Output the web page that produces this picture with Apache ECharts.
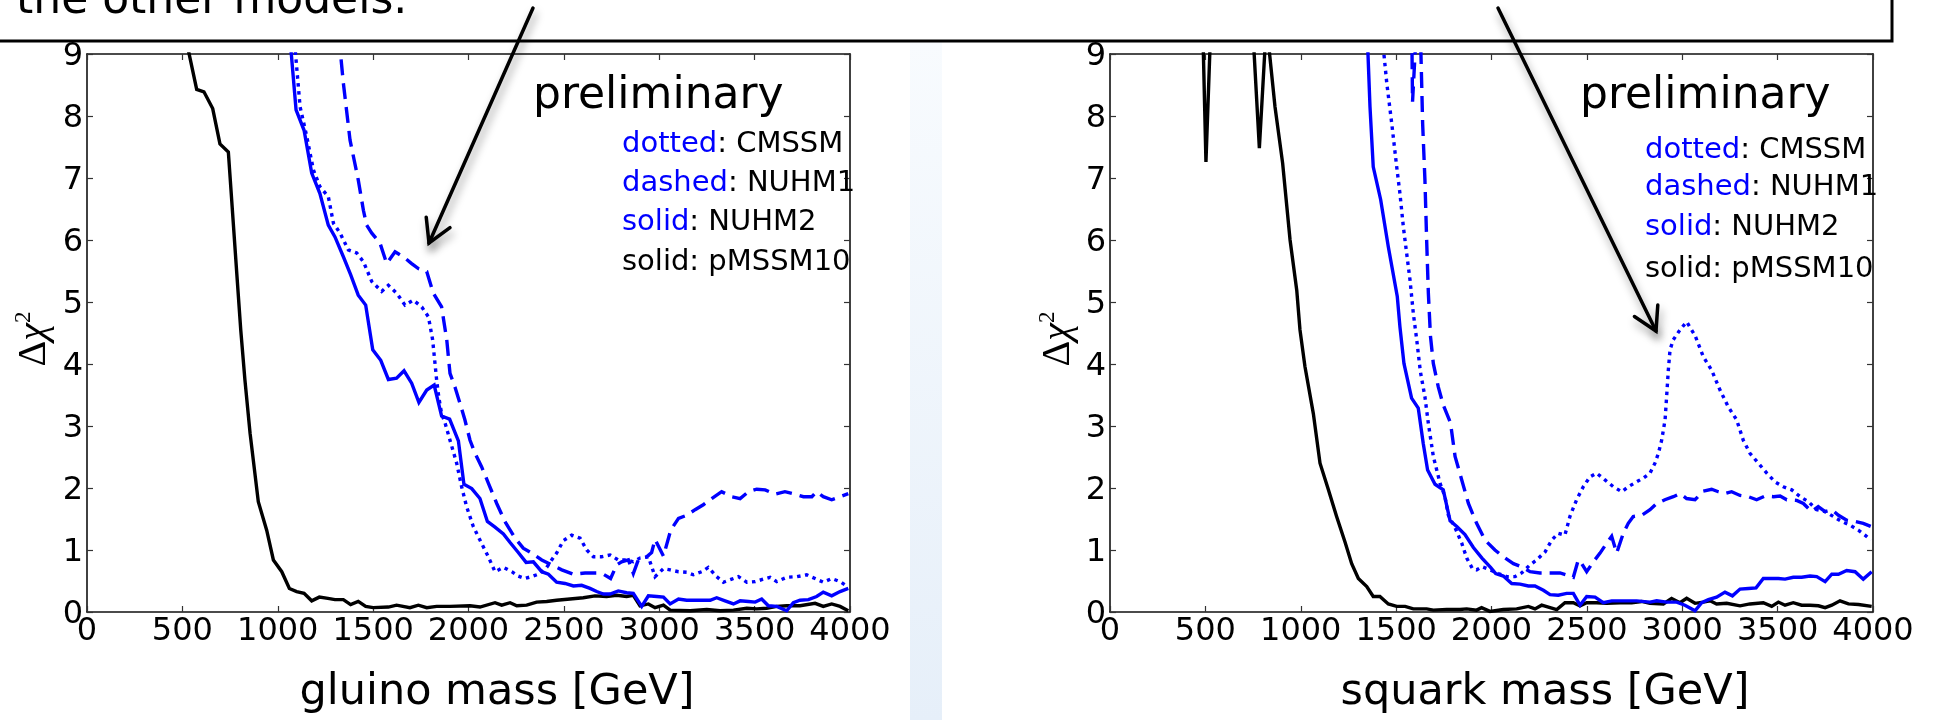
<!DOCTYPE html>
<html>
<head>
<meta charset="utf-8">
<script src="https://cdn.jsdelivr.net/npm/echarts@6/dist/echarts.min.js"></script>
<style>
  html, body { margin: 0; padding: 0; background: #ffffff; }
  #chart { width: 1937px; height: 720px; }
</style>
</head>
<body>
<div id="chart"></div>
<script>
// Axis ticks shared by both panels
const massTicks = [0, 500, 1000, 1500, 2000, 2500, 3000, 3500, 4000];
const chiTicks = [0, 1, 2, 3, 4, 5, 6, 7, 8, 9];

// Delta chi^2 profiles versus gluino mass [GeV]
const gluinoPMSSM10 = [[480, 9.8], [575, 8.43], [613, 8.39], [659, 8.12], [697, 7.55], [741, 7.42], [785, 5.47], [806, 4.55], [828, 3.74], [855, 2.88], [898, 1.78], [942, 1.32], [977, 0.84], [1021, 0.65], [1061, 0.38], [1099, 0.33], [1138, 0.30], [1178, 0.18], [1218, 0.24], [1263, 0.22], [1300, 0.20], [1344, 0.20], [1382, 0.12], [1422, 0.17], [1461, 0.09], [1500, 0.07], [1580, 0.08], [1623, 0.11], [1693, 0.07], [1737, 0.11], [1781, 0.07], [1833, 0.09], [1903, 0.09], [2008, 0.10], [2060, 0.08], [2139, 0.15], [2174, 0.11], [2218, 0.15], [2253, 0.10], [2305, 0.11], [2357, 0.16], [2410, 0.17], [2462, 0.19], [2532, 0.21], [2602, 0.23], [2663, 0.26], [2724, 0.25], [2777, 0.27], [2829, 0.25], [2864, 0.27], [2899, 0.10], [2943, 0.13], [2978, 0.07], [3022, 0.11], [3057, 0.03], [3162, 0.02], [3249, 0.04], [3319, 0.02], [3389, 0.03], [3459, 0.06], [3511, 0.05], [3563, 0.06], [3616, 0.09], [3668, 0.10], [3738, 0.10], [3817, 0.14], [3860, 0.09], [3904, 0.13], [3948, 0.09], [3991, 0.02]];
const gluinoNUHM2 = [[1060, 9.4], [1096, 8.10], [1138, 7.77], [1178, 7.08], [1221, 6.75], [1265, 6.24], [1300, 6.05], [1344, 5.73], [1382, 5.44], [1422, 5.11], [1461, 4.95], [1498, 4.23], [1540, 4.06], [1580, 3.75], [1623, 3.77], [1662, 3.89], [1702, 3.69], [1740, 3.38], [1781, 3.58], [1820, 3.66], [1859, 3.16], [1901, 3.11], [1947, 2.76], [1976, 2.06], [2017, 1.99], [2060, 1.83], [2099, 1.46], [2139, 1.37], [2183, 1.26], [2218, 1.12], [2261, 0.96], [2302, 0.80], [2340, 0.81], [2384, 0.65], [2419, 0.61], [2462, 0.48], [2506, 0.46], [2550, 0.42], [2593, 0.43], [2637, 0.38], [2672, 0.33], [2707, 0.29], [2742, 0.29], [2785, 0.34], [2829, 0.31], [2864, 0.30], [2908, 0.09], [2943, 0.26], [2987, 0.25], [3022, 0.24], [3057, 0.13], [3101, 0.21], [3144, 0.19], [3197, 0.19], [3267, 0.19], [3301, 0.23], [3345, 0.18], [3389, 0.13], [3424, 0.18], [3468, 0.17], [3503, 0.16], [3537, 0.21], [3572, 0.10], [3616, 0.09], [3668, 0.02], [3703, 0.15], [3738, 0.19], [3782, 0.20], [3825, 0.25], [3860, 0.32], [3904, 0.26], [3948, 0.33], [3991, 0.38]];
const gluinoCMSSM = [[1085, 9.3], [1117, 8.15], [1152, 7.67], [1187, 7.13], [1221, 6.86], [1265, 6.70], [1292, 6.27], [1327, 6.11], [1370, 5.84], [1414, 5.79], [1449, 5.65], [1493, 5.33], [1545, 5.17], [1580, 5.27], [1624, 5.14], [1667, 4.95], [1711, 5.03], [1755, 4.92], [1790, 4.76], [1812, 4.39], [1833, 3.74], [1845, 3.45], [1859, 3.20], [1877, 3.05], [1903, 2.77], [1938, 2.40], [1964, 2.02], [1990, 1.70], [2025, 1.38], [2060, 1.16], [2104, 0.89], [2139, 0.65], [2183, 0.72], [2227, 0.65], [2261, 0.58], [2296, 0.54], [2340, 0.58], [2375, 0.62], [2410, 0.72], [2436, 0.84], [2462, 0.95], [2497, 1.15], [2541, 1.24], [2585, 1.19], [2620, 1.00], [2655, 0.89], [2698, 0.89], [2742, 0.92], [2785, 0.84], [2829, 0.84], [2864, 0.81], [2899, 0.87], [2943, 0.89], [2978, 0.57], [3022, 0.70], [3057, 0.68], [3101, 0.65], [3144, 0.64], [3179, 0.60], [3223, 0.65], [3257, 0.72], [3301, 0.57], [3336, 0.48], [3380, 0.53], [3415, 0.57], [3459, 0.48], [3503, 0.49], [3546, 0.53], [3581, 0.56], [3616, 0.49], [3668, 0.56], [3721, 0.57], [3773, 0.60], [3817, 0.54], [3860, 0.48], [3904, 0.54], [3948, 0.49], [3982, 0.42]];
const gluinoNUHM1 = [[1320, 9.3], [1344, 8.53], [1379, 7.61], [1422, 6.97], [1449, 6.48], [1466, 6.24], [1493, 6.11], [1536, 5.95], [1571, 5.62], [1615, 5.81], [1658, 5.73], [1702, 5.62], [1737, 5.54], [1781, 5.49], [1816, 5.14], [1859, 4.92], [1886, 4.39], [1903, 3.85], [1929, 3.63], [1955, 3.37], [1981, 3.10], [2008, 2.77], [2034, 2.56], [2069, 2.34], [2104, 2.08], [2148, 1.75], [2191, 1.46], [2244, 1.19], [2287, 1.03], [2331, 0.95], [2384, 0.84], [2436, 0.76], [2489, 0.68], [2550, 0.61], [2611, 0.63], [2672, 0.63], [2707, 0.61], [2745, 0.54], [2777, 0.76], [2803, 0.81], [2838, 0.84], [2864, 0.62], [2890, 0.84], [2934, 0.89], [2960, 0.96], [2978, 1.17], [3022, 0.90], [3060, 1.32], [3101, 1.51], [3144, 1.56], [3188, 1.65], [3231, 1.73], [3275, 1.83], [3327, 1.94], [3380, 1.86], [3424, 1.83], [3468, 1.94], [3511, 1.98], [3555, 1.97], [3607, 1.90], [3659, 1.94], [3712, 1.90], [3756, 1.86], [3800, 1.86], [3825, 1.94], [3860, 1.86], [3904, 1.81], [3948, 1.86], [3991, 1.91]];

// Delta chi^2 profiles versus squark mass [GeV]
const squarkPMSSM10 = [[485, 9.6], [503, 7.26], [530, 9.6], [745, 9.6], [783, 7.48], [820, 9.5], [865, 8.15], [905, 7.24], [944, 6.0], [979, 5.19], [996, 4.55], [1022, 3.96], [1066, 3.20], [1101, 2.40], [1145, 1.97], [1188, 1.54], [1232, 1.13], [1267, 0.78], [1302, 0.54], [1346, 0.41], [1380, 0.25], [1415, 0.25], [1459, 0.13], [1503, 0.09], [1547, 0.09], [1590, 0.05], [1660, 0.05], [1695, 0.03], [1765, 0.04], [1835, 0.04], [1870, 0.05], [1922, 0.03], [1948, 0.07], [1992, 0.01], [2062, 0.04], [2132, 0.05], [2193, 0.09], [2228, 0.05], [2263, 0.11], [2307, 0.07], [2342, 0.04], [2385, 0.15], [2429, 0.15], [2464, 0.10], [2499, 0.15], [2551, 0.15], [2604, 0.14], [2674, 0.15], [2735, 0.15], [2787, 0.17], [2831, 0.14], [2901, 0.13], [2944, 0.22], [2988, 0.15], [3023, 0.22], [3067, 0.14], [3110, 0.16], [3146, 0.18], [3180, 0.13], [3233, 0.14], [3303, 0.10], [3355, 0.13], [3425, 0.15], [3469, 0.09], [3504, 0.16], [3539, 0.11], [3582, 0.15], [3626, 0.11], [3670, 0.11], [3714, 0.10], [3749, 0.07], [3784, 0.11], [3827, 0.18], [3871, 0.13], [3924, 0.12], [3993, 0.09]];
const squarkNUHM2 = [[1345, 9.6], [1363, 8.15], [1380, 7.18], [1419, 6.65], [1459, 5.89], [1506, 5.09], [1520, 4.60], [1541, 4.01], [1581, 3.45], [1616, 3.29], [1642, 2.72], [1665, 2.29], [1704, 2.06], [1747, 1.97], [1783, 1.47], [1818, 1.38], [1861, 1.25], [1905, 1.04], [1950, 0.87], [1995, 0.72], [2022, 0.62], [2062, 0.58], [2106, 0.46], [2150, 0.45], [2193, 0.42], [2228, 0.42], [2272, 0.35], [2307, 0.28], [2350, 0.27], [2394, 0.30], [2429, 0.30], [2464, 0.11], [2499, 0.25], [2543, 0.24], [2586, 0.15], [2630, 0.18], [2691, 0.18], [2761, 0.18], [2831, 0.16], [2866, 0.18], [2918, 0.16], [2971, 0.16], [3014, 0.11], [3067, 0.02], [3102, 0.15], [3137, 0.20], [3180, 0.24], [3224, 0.32], [3263, 0.26], [3303, 0.37], [3347, 0.38], [3387, 0.39], [3425, 0.54], [3469, 0.54], [3504, 0.54], [3539, 0.53], [3582, 0.56], [3626, 0.56], [3670, 0.58], [3705, 0.57], [3749, 0.49], [3784, 0.61], [3819, 0.61], [3862, 0.67], [3906, 0.65], [3949, 0.53], [3993, 0.65]];
const squarkCMSSM = [[1420, 9.5], [1451, 8.53], [1477, 7.88], [1503, 7.18], [1520, 6.75], [1538, 6.21], [1555, 5.79], [1573, 5.35], [1590, 4.82], [1608, 4.39], [1627, 3.88], [1651, 3.47], [1669, 3.04], [1695, 2.51], [1730, 2.08], [1756, 1.86], [1774, 1.56], [1809, 1.36], [1844, 1.11], [1870, 0.87], [1900, 0.70], [1922, 0.68], [1950, 0.73], [1992, 0.68], [2036, 0.62], [2080, 0.57], [2123, 0.57], [2158, 0.63], [2202, 0.76], [2237, 0.84], [2281, 0.97], [2316, 1.16], [2350, 1.27], [2385, 1.24], [2411, 1.54], [2446, 1.81], [2481, 2.02], [2516, 2.18], [2551, 2.24], [2595, 2.13], [2639, 2.02], [2683, 1.94], [2717, 2.02], [2761, 2.10], [2796, 2.16], [2831, 2.24], [2857, 2.40], [2875, 2.56], [2892, 2.77], [2910, 3.10], [2918, 3.47], [2927, 3.90], [2936, 4.23], [2953, 4.39], [2988, 4.55], [3023, 4.68], [3067, 4.46], [3110, 4.12], [3154, 3.90], [3198, 3.58], [3241, 3.31], [3285, 3.10], [3320, 2.77], [3355, 2.56], [3399, 2.40], [3443, 2.24], [3486, 2.10], [3530, 2.02], [3574, 1.97], [3618, 1.86], [3661, 1.78], [3705, 1.65], [3749, 1.62], [3792, 1.54], [3836, 1.46], [3880, 1.40], [3923, 1.32], [3958, 1.24], [3988, 1.16]];
const squarkNUHM1 = [[1582, 9.4], [1586, 8.23], [1606, 9.4], [1627, 9.4], [1639, 7.88], [1651, 6.97], [1660, 6.0], [1669, 5.14], [1680, 4.45], [1695, 4.01], [1721, 3.63], [1747, 3.34], [1785, 3.05], [1809, 2.51], [1844, 2.13], [1879, 1.75], [1922, 1.43], [1966, 1.16], [2018, 1.0], [2062, 0.89], [2115, 0.78], [2158, 0.73], [2202, 0.65], [2254, 0.63], [2307, 0.63], [2359, 0.63], [2403, 0.59], [2429, 0.56], [2455, 0.84], [2473, 0.78], [2499, 0.65], [2534, 0.81], [2569, 0.95], [2604, 1.11], [2630, 1.22], [2656, 0.95], [2691, 1.27], [2717, 1.43], [2743, 1.54], [2787, 1.56], [2831, 1.65], [2866, 1.75], [2909, 1.81], [2953, 1.86], [2988, 1.91], [3023, 1.83], [3067, 1.81], [3110, 1.95], [3154, 1.98], [3189, 1.94], [3224, 1.91], [3259, 1.94], [3303, 1.88], [3347, 1.86], [3390, 1.81], [3434, 1.87], [3478, 1.86], [3513, 1.87], [3548, 1.81], [3600, 1.80], [3635, 1.75], [3678, 1.62], [3713, 1.70], [3749, 1.62], [3784, 1.65], [3819, 1.56], [3862, 1.48], [3906, 1.46], [3949, 1.43], [3988, 1.38]];

const BLUE = '#0000ff';
const BLACK = '#000000';
const SANS = 'DejaVu Sans';
const SERIF = 'Liberation Serif';
const DASHED = [16, 8];
const DOTTED = [3.5, 4.5];
const TICK_FONT = 32;

const frameLine = { color: '#111', width: 1.6 };
const frameTick = { show: true, inside: true, length: 6, lineStyle: { color: '#333', width: 1.2 } };

// shiftDown nudges the value labels of the vertical axes slightly below their tick
function tickLabel(withLabels, shiftDown) {
  return {
    show: withLabels, margin: 4,
    formatter: v => '{t|' + String(v) + '}',
    rich: { t: { fontFamily: SANS, fontSize: TICK_FONT, lineHeight: TICK_FONT, color: '#000', padding: [shiftDown * 2, 0, 0, 0] } },
    fontFamily: SANS, fontSize: TICK_FONT, color: '#000'
  };
}
function massAxis(gridIndex, position, withLabels) {
  return {
    type: 'value', gridIndex, position,
    min: massTicks[0], max: massTicks[massTicks.length - 1], interval: massTicks[1] - massTicks[0],
    axisLine: { show: true, onZero: false, lineStyle: frameLine },
    axisTick: frameTick,
    axisLabel: tickLabel(withLabels, 0),
    splitLine: { show: false }
  };
}
function chiAxis(gridIndex, position, withLabels) {
  return {
    type: 'value', gridIndex, position,
    min: chiTicks[0], max: chiTicks[chiTicks.length - 1], interval: chiTicks[1] - chiTicks[0],
    axisLine: { show: true, onZero: false, lineStyle: frameLine },
    axisTick: frameTick,
    axisLabel: tickLabel(withLabels, 3),
    splitLine: { show: false }
  };
}
function curve(name, data, axisIndex, color, type) {
  return {
    type: 'line', name, data,
    xAxisIndex: axisIndex, yAxisIndex: axisIndex,
    symbol: 'none', showSymbol: false, smooth: false, clip: true,
    lineStyle: { color, width: 3.4, type, cap: 'butt', join: 'miter' },
    emphasis: { disabled: true }
  };
}

// Plain text helper: y is the alphabetic baseline
function label(text, x, baseline, size, align, rich) {
  return {
    type: 'text', x, y: baseline - 0.346 * size, z: 120,
    style: { text, fontFamily: SANS, fontSize: size, fill: '#000', align: align || 'left', verticalAlign: 'middle', rich }
  };
}
const keyRich = {
  b: { fontFamily: SANS, fontSize: 29, fill: BLUE, color: BLUE },
  k: { fontFamily: SANS, fontSize: 29, fill: '#000', color: '#000' }
};
function key(panelX, baselines) {
  return [
    label('{b|dotted}{k|: CMSSM}', panelX, baselines[0], 29, 'left', keyRich),
    label('{b|dashed}{k|: NUHM1}', panelX, baselines[1], 29, 'left', keyRich),
    label('{b|solid}{k|: NUHM2}', panelX, baselines[2], 29, 'left', keyRich),
    label('{k|solid: pMSSM10}', panelX, baselines[3], 29, 'left', keyRich)
  ];
}
function chiTitle(x, y) {
  return {
    type: 'text', x, y, rotation: Math.PI / 2, z: 120,
    style: {
      text: '{d|Δ}{c|χ}{s|2}', align: 'center', verticalAlign: 'middle',
      rich: {
        d: { fontFamily: SERIF, fontSize: 40, lineHeight: 42, fill: '#000', verticalAlign: 'bottom' },
        c: { fontFamily: SERIF, fontStyle: 'italic', fontSize: 40, lineHeight: 42, fill: '#000', verticalAlign: 'bottom' },
        s: { fontFamily: SERIF, fontSize: 23, lineHeight: 23, fill: '#000', verticalAlign: 'top' }
      }
    }
  };
}
function arrow(x0, y0, x1, y1) {
  const dx = x1 - x0, dy = y1 - y0, len = Math.hypot(dx, dy);
  const bx = -dx / len, by = -dy / len, a = Math.PI / 6, h = 26;
  const arm = s => [x1 + h * (Math.cos(s * a) * bx - Math.sin(s * a) * by), y1 + h * (Math.sin(s * a) * bx + Math.cos(s * a) * by)];
  const style = {
    stroke: '#000', lineWidth: 3.5, fill: null, lineCap: 'round', lineJoin: 'miter',
    shadowBlur: 9, shadowColor: 'rgba(0,0,0,0.4)', shadowOffsetX: 2, shadowOffsetY: 6
  };
  return [
    { type: 'line', z: 110, shape: { x1: x0, y1: y0, x2: x1, y2: y1 }, style },
    { type: 'polyline', z: 110, shape: { points: [arm(1), [x1, y1], arm(-1)] }, style }
  ];
}

const chart = echarts.init(document.getElementById('chart'), null, { renderer: 'canvas' });
chart.setOption({
  animation: false,
  backgroundColor: '#ffffff',
  grid: [
    { left: 87, top: 54, width: 763, height: 558 },
    { left: 1110, top: 54, width: 763, height: 558 }
  ],
  xAxis: [massAxis(0, 'bottom', true), massAxis(1, 'bottom', true), massAxis(0, 'top', false), massAxis(1, 'top', false)],
  yAxis: [chiAxis(0, 'left', true), chiAxis(1, 'left', true), chiAxis(0, 'right', false), chiAxis(1, 'right', false)],
  series: [
    curve('pMSSM10', gluinoPMSSM10, 0, BLACK, 'solid'),
    curve('NUHM2', gluinoNUHM2, 0, BLUE, 'solid'),
    curve('CMSSM', gluinoCMSSM, 0, BLUE, DOTTED),
    curve('NUHM1', gluinoNUHM1, 0, BLUE, DASHED),
    curve('pMSSM10', squarkPMSSM10, 1, BLACK, 'solid'),
    curve('NUHM2', squarkNUHM2, 1, BLUE, 'solid'),
    curve('CMSSM', squarkCMSSM, 1, BLUE, DOTTED),
    curve('NUHM1', squarkNUHM1, 1, BLUE, DASHED)
  ],
  graphic: [
    // pale divider strip between the panels
    {
      type: 'rect', z: 1, shape: { x: 910, y: 41, width: 32, height: 679 },
      style: { fill: new echarts.graphic.LinearGradient(0, 0, 0, 1, [{ offset: 0, color: '#f8fbfe' }, { offset: 1, color: '#e6eff9' }]) }
    },
    // caption box across the top
    { type: 'rect', z: 100, shape: { x: -4, y: -60, width: 1896, height: 101 }, style: { fill: '#fff', stroke: '#000', lineWidth: 3 } },
    label('the other models.', 16, 17, 44),
    ...arrow(533, 8, 429, 243),
    ...arrow(1498, 8, 1656, 331),
    label('preliminary', 533, 112, 44),
    ...key(622, [155, 194, 233, 273]),
    label('preliminary', 1580, 112, 44),
    ...key(1645, [161, 198, 238, 280]),
    label('gluino mass [GeV]', 497, 708, 43, 'center'),
    label('squark mass [GeV]', 1545, 708, 43, 'center'),
    chiTitle(33, 339),
    chiTitle(1057, 339)
  ]
});
</script>
</body>
</html>
